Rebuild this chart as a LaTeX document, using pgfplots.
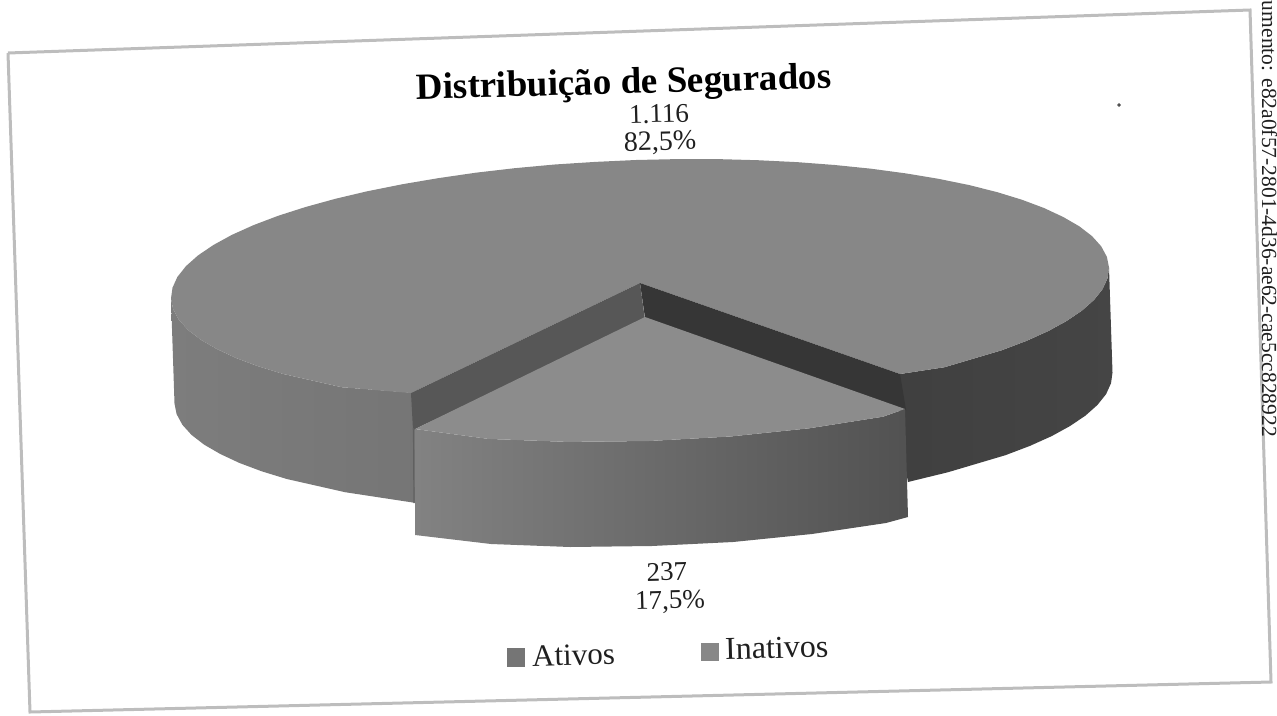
\documentclass[border=0pt]{standalone}
\usepackage{pgfplots}
\pgfplotsset{compat=1.18}
\usepackage{fontspec}
\setmainfont{Liberation Serif}
\definecolor{topf}{gray}{0.53}
\definecolor{sideL}{gray}{0.49}
\definecolor{sideM}{gray}{0.46}
\definecolor{sideD}{gray}{0.25}
\definecolor{sideE}{gray}{0.27}
\definecolor{wallL}{gray}{0.34}
\definecolor{wallR}{gray}{0.21}
\definecolor{sliceT}{gray}{0.55}
\definecolor{sliceA}{gray}{0.51}
\definecolor{sliceC}{gray}{0.43}
\definecolor{sliceB}{gray}{0.32}
\definecolor{frameC}{gray}{0.74}
\definecolor{inkC}{gray}{0.12}
\begin{document}
\begin{tikzpicture}[x=1pt,y=1pt]
\useasboundingbox (0,0) rectangle (1277,715);
\begin{axis}[
  at={(0,0)},anchor=south west,
  scale only axis,width=1277pt,height=715pt,
  xmin=0,xmax=1277,ymin=0,ymax=715,y dir=reverse,
  axis lines=none,clip=false]
% frame
\addplot[frameC,line width=3pt,sharp plot] coordinates {(8,53)(1250,10)(1271,682)(30,712)(8,53)};
% main left side
\addplot[draw=none,left color=sideL,right color=sideM,shading angle=90] coordinates {
(171,298.5)(173.1,309.1)(178.8,319.7)(188,329.9)(200.7,339.7)(216.8,349)(235.8,357.9)(258.2,366.3)(283.3,374)(341.6,387.2)(416,393)
(416,503)(345.1,492.2)(286.8,479)(261.7,471.3)(239.3,462.9)(220.3,454)(204.2,444.7)(191.5,434.9)(182.3,424.7)(176.6,414.1)(174.5,403.5)} --cycle;
% main right side
\addplot[draw=none,left color=sideD,right color=sideE,shading angle=90] coordinates {
(900,374)(944.6,367.2)(1001.9,350.2)(1026.4,340.9)(1048.2,331.1)(1066.6,321)(1082.1,310.5)(1094,299.9)(1102.6,289.1)(1107.5,278.3)(1109,267.5)
(1112.5,372.5)(1111,383.3)(1106.1,394.1)(1097.5,404.9)(1085.6,415.5)(1070.1,426)(1051.7,436.1)(1029.9,445.9)(1005.4,455.2)(948.1,472.2)(908,482)(900,440)} --cycle;
% main top face
\addplot[draw=none,fill=topf] coordinates {
(640,283)(900,374)(944.6,367.2)(1001.9,350.2)(1026.4,340.9)(1048.2,331.1)(1066.6,321)(1082.1,310.5)(1094,299.9)(1102.6,289.1)(1107.5,278.3)
(1109,267.5)(1106.9,256.9)(1101.2,246.3)(1092,236.1)(1079.3,226.3)(1063.2,217)(1044.2,208.1)(1021.8,199.7)(996.7,192)(968.8,185)(938.4,178.8)(905.9,173.4)(871,168.7)(834.8,165)
(796.6,162.1)(757.6,160.2)(717.5,159.1)(676.8,159.1)(636,160)(595.2,161.9)(554.7,164.5)(514.6,168.2)(475.8,172.7)(438,178.2)(402,184.3)(367.5,191.2)(335.4,198.8)(305.6,207)
(278.1,215.8)(253.6,225.1)(231.8,234.9)(213.4,245)(197.9,255.5)(186,266.1)(177.4,276.9)(172.5,287.7)(171,298.5)(173.1,309.1)(178.8,319.7)(188,329.9)(200.7,339.7)(216.8,349)
(235.8,357.9)(258.2,366.3)(283.3,374)(341.6,387.2)(411,393)} --cycle;
% inner walls
\addplot[draw=none,fill=wallL] coordinates {(640,283)(411,393)(413,430)(645,320)} --cycle;
\addplot[draw=none,fill=wallR] coordinates {(640,283)(900,374)(906,410)(645,318)} --cycle;
% seam beside the slice
\addplot[gray!75!black,line width=1.2pt,sharp plot] coordinates {(413.5,428)(414,503)};
% slice front
\addplot[draw=none,left color=sliceA,middle color=sliceC,right color=sliceB,shading angle=90] coordinates {
(415,429)(488.4,438.9)(567.5,441.9)(649,441)(730.3,436.5)(809.2,428.3)(883,416.7)(905,409)
(908,517)(886,523)(812,534)(733,542)(652,546)(570,547)(491,544)(415,535)} --cycle;
% slice top
\addplot[draw=none,fill=sliceT] coordinates {
(645,317)(905,409)(883,416.7)(809.2,428.3)(730.3,436.5)(649,441)(567.5,441.9)(488.4,438.9)(415,429)} --cycle;
% legend keys
\addplot[draw=none,fill=sideM] coordinates {(507,648)(525,648)(525,667)(507,667)} --cycle;
\addplot[draw=none,fill=topf] coordinates {(701,643)(719,643)(719,661)(701,661)} --cycle;
% speck
\addplot[only marks,mark=*,mark size=1.5pt,black!70] coordinates {(1119,105)};
\node[rotate=1.5,inner sep=0pt,font=\fontsize{37}{40}\selectfont\bfseries] at (axis cs:624,85) {Distribuição de Segurados};
\node[rotate=1.5,inner sep=0pt,font=\fontsize{27}{30}\selectfont,inkC] at (axis cs:659,114) {1.116};
\node[rotate=1.5,inner sep=0pt,font=\fontsize{28}{30}\selectfont,inkC] at (axis cs:660,143) {82,5\%};
\node[rotate=1.5,inner sep=0pt,font=\fontsize{27}{30}\selectfont,inkC] at (axis cs:667,572) {237};
\node[rotate=1.5,inner sep=0pt,font=\fontsize{27}{30}\selectfont,inkC] at (axis cs:670,602) {17,5\%};
\node[rotate=1.5,font=\fontsize{31}{34}\selectfont,inkC,anchor=west,inner sep=0pt] at (axis cs:532,656) {Ativos};
\node[rotate=1.5,font=\fontsize{32}{34}\selectfont,inkC,anchor=west,inner sep=0pt] at (axis cs:725,649) {Inativos};
\node[rotate=-90,font=\fontsize{21.5}{23}\selectfont,inkC,anchor=east,inner sep=0pt] at (axis cs:1269.5,437) {Documento: e82a0f57-2801-4d36-ae62-cae5cc828922};
\end{axis}
\end{tikzpicture}
\end{document}
